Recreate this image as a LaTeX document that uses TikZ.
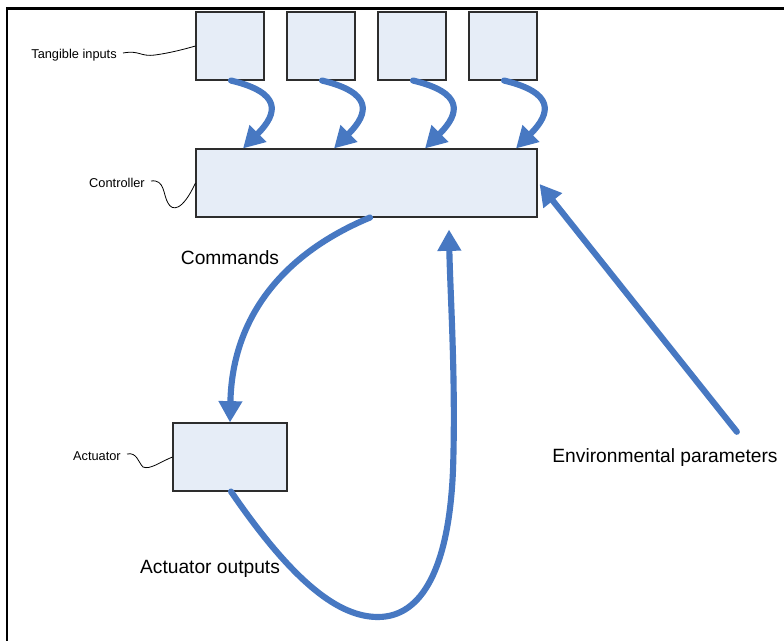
\documentclass[tikz,border=0pt]{standalone}
\usepackage{fontspec}
\setmainfont{Liberation Sans}
\usetikzlibrary{arrows.meta,calc}
\definecolor{flowblue}{RGB}{71,120,194}
\definecolor{boxfill}{RGB}{230,237,247}
\definecolor{boxline}{RGB}{45,45,45}
\tikzset{
  blk/.style={draw=boxline,fill=boxfill,line width=0.8pt,inner sep=0pt},
  smalllab/.style={font=\fontsize{9.6pt}{11pt}\selectfont,inner sep=0pt,anchor=east},
  biglab/.style={font=\fontsize{14.4pt}{17pt}\selectfont,inner sep=0pt},
  flow/.style={draw=flowblue,line width=4.6pt,line cap=round,-{Triangle[length=16pt,width=17pt]}},
  leader/.style={draw=black,line width=0.6pt},
  frameline/.style={draw=black,line width=1.6pt}
}
\begin{document}
\begin{tikzpicture}[x=0.75pt,y=-0.75pt]
\useasboundingbox (0,0) rectangle (784,641);
\draw[frameline] (7,641) -- (7,8.5) -- (784,8.5);
% tangible input boxes
\node[blk,minimum width=68*0.75pt,minimum height=68*0.75pt] (t1) at (230,46) {};
\node[blk,minimum width=68*0.75pt,minimum height=68*0.75pt] (t2) at (321,46) {};
\node[blk,minimum width=68*0.75pt,minimum height=68*0.75pt] (t3) at (412,46) {};
\node[blk,minimum width=68*0.75pt,minimum height=68*0.75pt] (t4) at (503,46) {};
% controller
\node[blk,minimum width=341*0.75pt,minimum height=68*0.75pt] (ctrl) at (366.5,183) {};
% actuator
\node[blk,minimum width=114*0.75pt,minimum height=68*0.75pt] (act) at (230,457) {};
% labels
\node[smalllab] (ltang) at (117,55) {Tangible inputs};
\node[smalllab] (lctrl) at (145,183) {Controller};
\node[smalllab] (lact) at (121,456) {Actuator};
\node[biglab] (lcmd) at (230,258) {Commands};
\node[biglab] (lout) at (210,569) {Actuator outputs};
\node[biglab] (lenv) at (665,458) {Environmental parameters};
% leader lines
\draw[leader] ($(ltang.east)+(6,-2)$) .. controls (140,50) and (140,57) .. (155,55) .. controls (170,53) and (185,49) .. (t1.west);
\draw[leader] ($(lctrl.east)+(6,-2)$) .. controls (165,179) and (163,195) .. (168,203) .. controls (172,211) and (182,212) .. (ctrl.west);
\draw[leader] ($(lact.east)+(6,-2)$) .. controls (137,452) and (138,462) .. (143,467) .. controls (150,470) and (160,462) .. (act.west);
% tangible -> controller
\foreach \i/\dx in {1/-123.5,2/-32.5,3/58.5,4/149.5}{
  \draw[flow] ($(t\i.south)+(1,0)$) .. controls +(50,12) and +(36,-36) .. ($(ctrl.north)+(\dx,0)$);
}
% commands
\draw[flow] ($(ctrl.south)+(3.5,0)$) .. controls (280,255) and (232,320) .. (act.north);
% actuator outputs
\draw[flow] ($(act.south)+(1,0)$) .. controls (295,585) and (340,617) .. (378,617) .. controls (422,617) and (449,568) .. (453,470) .. controls (456,380) and (450,290) .. ($(ctrl.south)+(82.5,12)$);
% environmental parameters
\coordinate (envstart) at ($(lenv.north east)+(-41,-17)$);
\draw[flow] (envstart) -- ($(ctrl.east)+(2,1)$);
\end{tikzpicture}
\end{document}
